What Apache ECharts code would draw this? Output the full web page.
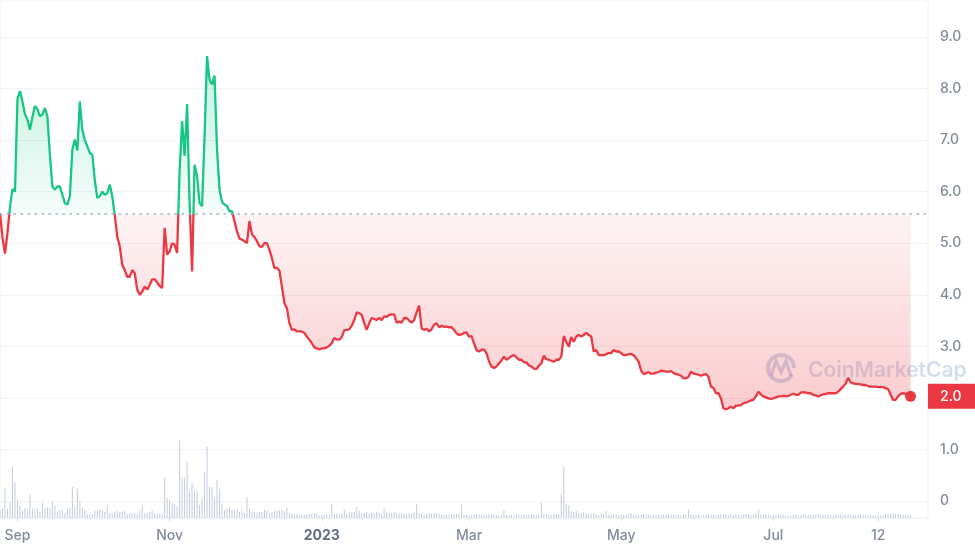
<!DOCTYPE html>
<html><head><meta charset="utf-8">
<script src="https://cdn.jsdelivr.net/npm/echarts@6/dist/echarts.min.js"></script>
<style>html,body{margin:0;padding:0;background:#fff}#c{width:975px;height:554px}</style>
</head><body><div id="c"></div>
<script>
// ---- data ----
const startDate = '2022-08-25';   // first daily point
const padDays = 7;                // empty days at the right edge of the plot
const baseline = 5.57;            // reference price (dotted line)
const prices = [
5.58,5.1,4.8,5.2,5.7,6.05,6.0,7.8,7.95,7.75,
7.5,7.4,7.2,7.45,7.66,7.6,7.46,7.5,7.62,7.46,
6.72,6.1,6.04,6.1,6.1,5.94,5.78,5.75,5.91,6.82,
7.01,6.8,7.75,7.2,7.0,6.88,6.75,6.72,6.23,5.88,
5.91,6.0,5.94,5.97,6.14,5.91,5.55,5.13,4.94,4.58,
4.48,4.35,4.35,4.48,4.42,4.1,4.0,4.06,4.16,4.1,
4.19,4.3,4.3,4.24,4.17,4.13,5.3,4.78,4.84,5.0,
4.97,4.81,6.4,7.37,6.7,7.7,5.8,4.45,6.52,6.3,
5.78,5.72,7.07,8.63,8.17,8.08,8.25,6.82,6.04,5.8,
5.75,5.72,5.62,5.62,5.43,5.23,5.09,5.07,5.04,5.0,
5.43,5.17,5.12,5.04,4.94,4.93,5.0,5.0,4.87,4.71,
4.52,4.52,4.47,4.16,3.84,3.74,3.45,3.32,3.33,3.29,
3.29,3.29,3.26,3.19,3.13,3.06,2.98,2.96,2.94,2.96,
2.96,2.98,3.01,3.06,3.16,3.13,3.13,3.18,3.31,3.32,
3.33,3.4,3.51,3.66,3.64,3.61,3.45,3.32,3.45,3.55,
3.53,3.51,3.55,3.51,3.58,3.57,3.61,3.62,3.62,3.46,
3.48,3.46,3.55,3.55,3.5,3.46,3.51,3.66,3.79,3.35,
3.32,3.34,3.29,3.33,3.42,3.45,3.37,3.4,3.38,3.38,
3.37,3.37,3.32,3.25,3.22,3.23,3.26,3.27,3.19,3.2,
3.06,2.93,2.9,2.93,2.94,2.87,2.71,2.61,2.58,2.61,
2.67,2.72,2.8,2.74,2.77,2.81,2.83,2.79,2.74,2.74,
2.69,2.69,2.63,2.61,2.57,2.56,2.62,2.67,2.82,2.75,
2.74,2.72,2.7,2.74,2.74,2.8,3.2,3.09,2.99,3.18,
3.09,3.19,3.22,3.19,3.22,3.26,3.22,3.19,2.9,2.93,
2.83,2.83,2.83,2.85,2.87,2.87,2.93,2.9,2.9,2.87,
2.83,2.83,2.85,2.85,2.83,2.77,2.7,2.53,2.46,2.48,
2.5,2.47,2.47,2.49,2.5,2.53,2.52,2.51,2.51,2.52,
2.48,2.46,2.45,2.43,2.38,2.38,2.41,2.51,2.47,2.46,
2.45,2.43,2.45,2.46,2.41,2.22,2.19,2.09,2.09,1.99,
1.8,1.78,1.8,1.83,1.8,1.85,1.85,1.86,1.9,1.91,
1.93,1.95,1.96,2.03,2.12,2.07,2.03,2.01,1.99,1.98,
1.99,2.01,2.03,2.03,2.04,2.03,2.04,2.06,2.08,2.06,
2.06,2.1,2.11,2.1,2.09,2.09,2.06,2.05,2.03,2.05,
2.07,2.08,2.09,2.09,2.09,2.09,2.12,2.17,2.22,2.28,
2.39,2.3,2.28,2.27,2.27,2.26,2.25,2.25,2.23,2.22,
2.22,2.22,2.21,2.21,2.21,2.19,2.17,2.06,1.96,1.96,
2.03,2.08,2.09,2.08,2.06,2.03
];
const volumes = [
0.83,0.93,2.93,0.93,1.6,5.17,3.6,1.83,1.27,0.77,
1.03,0.83,2.37,0.93,0.93,0.93,0.6,1.5,1.03,1.1,
1.03,1.67,1.27,0.6,0.83,0.83,0.5,0.93,1.03,3.1,
1.1,2.93,1.6,1.03,0.83,0.43,0.37,0.43,0.7,0.77,
0.83,0.83,0.6,1.27,0.5,0.43,0.6,0.7,0.6,0.6,
0.7,0.43,0.5,0.43,0.5,0.43,0.7,1.27,0.43,0.5,
0.6,0.77,0.5,0.43,0.43,0.43,4.03,2.03,1.77,1.5,
1.37,1.17,7.7,4.03,4.03,5.6,2.67,3.5,2.77,2.67,
1.27,2.03,4.6,7.17,3.1,3.1,2.03,3.77,2.93,1.37,
0.83,1.03,1.1,0.83,0.77,0.93,0.6,0.77,0.5,2.1,
1.03,0.6,0.6,0.5,0.6,0.6,0.83,0.77,0.5,0.6,
0.7,0.77,0.77,0.83,0.7,1.03,0.5,0.43,0.43,0.37,
0.27,0.27,0.33,0.37,0.43,0.43,0.5,0.5,0.27,0.33,
0.27,0.33,0.37,1.43,0.43,0.5,0.37,0.43,0.83,0.43,
0.6,0.6,0.6,1.1,0.7,0.5,0.5,0.6,0.5,0.6,
0.5,0.6,0.5,0.43,0.93,0.6,0.5,0.5,0.6,0.5,
0.43,0.5,0.43,0.43,0.5,0.5,0.6,1.37,0.5,0.5,
0.37,0.43,0.5,0.43,0.5,0.5,0.43,0.37,0.37,0.33,
0.37,0.37,0.37,0.43,0.43,1.37,0.33,0.27,0.27,0.27,
0.33,0.33,0.37,0.33,0.37,0.33,0.37,0.33,0.27,0.27,
0.27,
0.3,0.83,0.27,0.3,0.33,0.27,0.37,0.3,0.33,0.4,
0.3,0.33,0.37,0.3,0.27,0.33,1.6,0.4,0.43,0.37,
0.33,0.4,0.37,0.43,2.37,5.17,1.43,1.27,0.7,0.6,
0.7,0.53,0.5,0.6,0.43,0.5,0.4,0.47,0.37,0.33,
0.5,0.37,0.7,0.33,0.3,0.37,0.33,0.3,0.37,0.33,
0.3,0.33,0.5,0.37,0.33,0.3,0.37,0.4,0.33,0.3,
0.3,0.27,0.33,0.3,0.3,0.33,0.27,0.3,0.33,0.3,
0.33,0.3,0.27,0.3,0.33,0.83,0.4,0.33,0.3,0.33,
0.3,0.27,0.3,0.33,0.3,0.37,0.3,0.33,0.4,0.33,
0.37,0.3,0.4,0.33,0.37,0.3,0.33,0.37,0.4,0.33,
0.3,0.37,0.5,0.83,0.4,0.33,0.3,0.37,0.27,0.3,
0.27,0.33,0.37,0.3,0.27,0.23,0.27,0.3,0.33,0.27,
0.3,0.33,0.27,0.3,0.37,0.3,0.33,0.37,0.3,0.27,
0.3,0.33,0.3,0.27,0.33,0.3,0.37,0.33,0.3,0.37,
0.33,0.3,0.27,0.3,0.33,0.27,0.23,0.27,0.3,0.27,
0.23,0.27,0.3,0.33,0.37,0.4,0.43,0.5,0.4,0.37,
0.33,0.3,0.33,0.3,0.27
];
const xTickLabels = {
  '2022-09-01': 'Sep', '2022-11-01': 'Nov', '2023-01-01': '2023',
  '2023-03-01': 'Mar', '2023-05-01': 'May', '2023-07-01': 'Jul', '2023-08-12': '12'
};
const yMin = 0, yMax = 9, yStep = 1;

// ---- build ----
const GREEN = '#16c784', RED = '#ea3943';
const dates = [];
const t0 = Date.parse(startDate + 'T00:00:00Z');
for (let i = 0; i < prices.length + padDays; i++) {
  dates.push(new Date(t0 + i * 86400000).toISOString().slice(0, 10));
}
const priceData = dates.map((d, i) => i < prices.length ? prices[i] : null);
const volData = dates.map((d, i) => i < volumes.length ? volumes[i] : null);
const lastIdx = prices.length - 1;
const lastPrice = prices[lastIdx];
const pMax = Math.max(...prices), pMin = Math.min(...prices);
const f = (pMax - baseline) / (pMax - pMin);

const chart = echarts.init(document.getElementById('c'), null, { renderer: 'canvas' });
const isTick = (i, v) => Object.prototype.hasOwnProperty.call(xTickLabels, v);
chart.setOption({
  animation: false,
  textStyle: { fontFamily: 'Inter' },
  grid: [
    { left: -2, right: 47, top: 37, bottom: 53 },
    { left: -2, right: 47, top: -1, bottom: 36, show: true, borderColor: '#eff2f5', borderWidth: 1 }
  ],
  xAxis: [
    { type: 'category', gridIndex: 0, data: dates, boundaryGap: false, show: false },
    { type: 'category', gridIndex: 1, data: dates, boundaryGap: false,
      axisLine: { show: true, lineStyle: { color: '#eff2f5' } },
      axisTick: { show: true, interval: isTick, length: 3, lineStyle: { color: '#d5dae3' } },
      axisLabel: { interval: isTick, margin: 11, color: '#808a9d', fontSize: 14, fontWeight: 500, fontFamily: 'Inter',
        formatter: v => v === '2023-01-01' ? '{b|' + xTickLabels[v] + '}' : (xTickLabels[v] || ''),
        rich: { b: { fontWeight: 700, color: '#616e85', fontSize: 14, fontFamily: 'Inter' } } },
      splitLine: { show: false } }
  ],
  yAxis: [
    { type: 'value', gridIndex: 0, position: 'right', min: yMin, max: yMax, interval: yStep,
      axisLine: { show: false }, axisTick: { show: false },
      axisLabel: { margin: 12, color: '#808a9d', fontSize: 14, fontWeight: 500, fontFamily: 'Inter',
        formatter: v => v === 0 ? '0' : v.toFixed(1) },
      splitLine: { lineStyle: { color: '#f0f2f5', width: 1 } } },
    { type: 'value', gridIndex: 1, min: 0, max: 51.9, show: false, splitLine: { show: false } }
  ],
  visualMap: {
    type: 'piecewise', show: false, seriesIndex: 0, dimension: 1,
    pieces: [
      { gt: baseline, lte: yMax + 100, color: GREEN },
      { gte: yMin - 100, lte: baseline, color: RED }
    ]
  },
  graphic: [
    { type: 'arc', z: 1, shape: { cx: 781, cy: 368, r: 13, startAngle: 0.55, endAngle: Math.PI * 2 },
      style: { stroke: 'rgba(160,182,215,0.5)', lineWidth: 4, fill: null } },
    { type: 'polyline', z: 1, shape: { points: [[771, 376], [776, 361], [781, 372], [786, 361], [791, 376]] },
      style: { stroke: 'rgba(160,182,215,0.5)', lineWidth: 3.5, fill: null } },
    { type: 'text', z: 1, left: 808, top: 360,
      style: { text: 'CoinMarketCap', font: '600 21px Inter', fill: 'rgba(160,182,215,0.45)' } }
  ],
  series: [
    { name: 'Price', type: 'line', xAxisIndex: 0, yAxisIndex: 0, data: priceData,
      showSymbol: false, symbol: 'none', z: 3,
      lineStyle: { width: 2.3 },
      areaStyle: { origin: baseline, opacity: 1,
        color: new echarts.graphic.LinearGradient(0, 0, 0, 1, [
          { offset: 0, color: 'rgba(22,199,132,0.26)' },
          { offset: f, color: 'rgba(22,199,132,0.04)' },
          { offset: f, color: 'rgba(234,57,67,0.06)' },
          { offset: 1, color: 'rgba(234,57,67,0.26)' }
        ]) },
      markLine: { silent: true, symbol: 'none', animation: false,
        lineStyle: { color: '#a6b0c3', type: [1.5, 5.5], width: 1.5, cap: 'round' },
        label: { show: false },
        data: [{ yAxis: baseline }] }
    },
    { name: 'Last', type: 'scatter', xAxisIndex: 0, yAxisIndex: 0, z: 4,
      data: [[dates[lastIdx], lastPrice]], symbolSize: 11, itemStyle: { color: RED, opacity: 1 },
      markLine: { silent: true, symbol: 'none', animation: false,
        lineStyle: { color: 'rgba(0,0,0,0)', width: 0 },
        label: { show: true, position: 'end', distance: 0, formatter: lastPrice.toFixed(1),
          color: '#fff', backgroundColor: RED, padding: [6, 22, 5, 12],
          fontSize: 14, fontFamily: 'Inter', fontWeight: 500, lineHeight: 14 },
        data: [{ yAxis: lastPrice }] }
    },
    { name: 'Volume', type: 'bar', xAxisIndex: 1, yAxisIndex: 1, data: volData,
      barWidth: 1, itemStyle: { color: '#c3cbdd' }, z: 2 }
  ]
});
</script>
</body></html>
